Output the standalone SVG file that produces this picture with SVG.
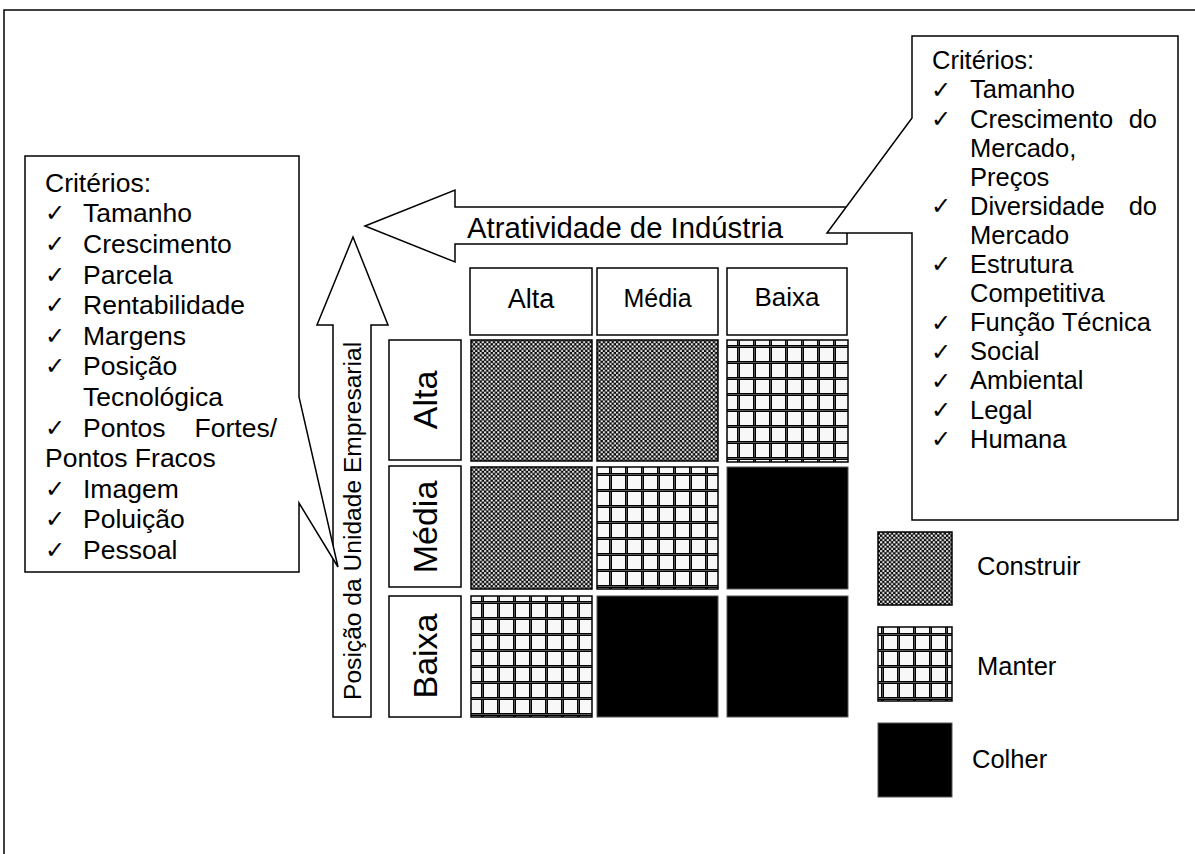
<svg xmlns="http://www.w3.org/2000/svg" width="1195" height="854" viewBox="0 0 1195 854">
<style>
text{font-family:"Liberation Sans",Arial,sans-serif;fill:#000}
.ck{font-family:"DejaVu Sans",sans-serif;font-size:24px}
.l{font-size:26.5px}
.r{font-size:25.5px}
.box{fill:#fff;stroke:#000;stroke-width:1.5}
.shape{fill:#fff;stroke:#000;stroke-width:1.5;stroke-linejoin:miter}
.build{fill:url(#checker);stroke:#000;stroke-width:1.5}
.keep{fill:url(#grid);stroke:#000;stroke-width:1.5}
.harvest{fill:#000;stroke:#555;stroke-width:1}
.hdr{font-size:34px}
</style>
<defs>
<pattern id="checker" patternUnits="userSpaceOnUse" width="4.4" height="4.4">
<rect width="4.4" height="4.4" fill="#000"/>
<rect x="0.1" y="0.1" width="2" height="2" fill="#fff"/>
<rect x="2.3" y="2.3" width="2" height="2" fill="#fff"/>
</pattern>
<pattern id="grid" patternUnits="userSpaceOnUse" width="16" height="16">
<rect width="16" height="16" fill="#f8f8f8"/>
<rect x="1" y="0" width="1" height="16" fill="#000"/>
<rect x="2" y="0" width="1" height="16" fill="#555"/>
<rect x="3" y="0" width="1" height="16" fill="#000"/>
<rect x="0" y="9" width="16" height="1" fill="#000"/>
<rect x="0" y="10" width="16" height="1" fill="#555"/>
<rect x="0" y="11" width="16" height="1" fill="#000"/>
</pattern>
</defs>
<rect width="1195" height="854" fill="#fff"/>
<path d="M4,854 V10 H1195" fill="none" stroke="#000" stroke-width="1.5"/>

<g id="connectors">
<path id="arrow-position" class="shape" d="M353,237 L388,325 H371 V717 H333 V325 H317 Z"/>
<path id="arrow-industry" class="shape" d="M365,226 L455,190 V207 H847 V244 H455 V262 Z"/>
</g>

<g id="callout-left">
<path class="box" d="M25,156 H299 V397 L338,567 L299,503 V572 H25 Z"/>
<text class="l" x="45" y="192">Critérios:</text>
<text class="ck" x="45" y="221">✓</text><text class="l" x="83" y="222.3">Tamanho</text>
<text class="ck" x="45" y="252">✓</text><text class="l" x="83" y="252.9">Crescimento</text>
<text class="ck" x="45" y="282.5">✓</text><text class="l" x="83" y="283.5">Parcela</text>
<text class="ck" x="45" y="313">✓</text><text class="l" x="83" y="314.1">Rentabilidade</text>
<text class="ck" x="45" y="343.5">✓</text><text class="l" x="83" y="344.7">Margens</text>
<text class="ck" x="45" y="374">✓</text><text class="l" x="83" y="375.3">Posição</text>
<text class="l" x="83" y="405.9">Tecnológica</text>
<text class="ck" x="45" y="435.5">✓</text><text class="l" x="83" y="436.5">Pontos</text><text class="l" x="277" y="436.5" text-anchor="end">Fortes/</text>
<text class="l" x="45" y="467.1">Pontos Fracos</text>
<text class="ck" x="45" y="496.5">✓</text><text class="l" x="83" y="497.7">Imagem</text>
<text class="ck" x="45" y="527">✓</text><text class="l" x="83" y="528.3">Poluição</text>
<text class="ck" x="45" y="558">✓</text><text class="l" x="83" y="558.9">Pessoal</text>
</g>

<g id="callout-right">
<path class="box" d="M912,36 H1178 V520 H912 V233 H827 L912,118 Z"/>
<text class="r" x="932" y="69.3">Critérios:</text>
<text class="ck" x="931" y="97.5">✓</text><text class="r" x="970" y="98.4">Tamanho</text>
<text class="ck" x="931" y="126.5">✓</text><text class="r" x="970" y="127.5">Crescimento</text><text class="r" x="1157" y="127.5" text-anchor="end">do</text>
<text class="r" x="970" y="156.6">Mercado,</text>
<text class="r" x="970" y="185.7">Preços</text>
<text class="ck" x="931" y="214">✓</text><text class="r" x="970" y="214.8">Diversidade</text><text class="r" x="1157" y="214.8" text-anchor="end">do</text>
<text class="r" x="970" y="243.9">Mercado</text>
<text class="ck" x="931" y="272">✓</text><text class="r" x="970" y="273">Estrutura</text>
<text class="r" x="970" y="302.1">Competitiva</text>
<text class="ck" x="931" y="330.5">✓</text><text class="r" x="970" y="331.2">Função Técnica</text>
<text class="ck" x="931" y="359.5">✓</text><text class="r" x="970" y="360.3">Social</text>
<text class="ck" x="931" y="388.5">✓</text><text class="r" x="970" y="389.4">Ambiental</text>
<text class="ck" x="931" y="417.5">✓</text><text class="r" x="970" y="418.5">Legal</text>
<text class="ck" x="931" y="446.5">✓</text><text class="r" x="970" y="447.6">Humana</text>
</g>

<g id="label-industry"><text x="467" y="238" font-size="29.3">Atratividade de Indústria</text></g>
<g id="label-position"><text transform="translate(361,700) rotate(-90)" font-size="24.6">Posição da Unidade Empresarial</text></g>

<g id="col-alta"><rect class="box" x="470" y="268" width="122" height="67"/><text x="531" y="308" font-size="27" text-anchor="middle">Alta</text></g>
<g id="col-media"><rect class="box" x="597" y="268" width="121" height="67"/><text x="657.5" y="307" font-size="25" text-anchor="middle">Média</text></g>
<g id="col-baixa"><rect class="box" x="727" y="268" width="120" height="67"/><text x="787" y="306" font-size="26" text-anchor="middle">Baixa</text></g>

<g id="row-alta"><rect class="box" x="389" y="340" width="72" height="120"/><text class="hdr" transform="translate(437,400) rotate(-90)" text-anchor="middle">Alta</text></g>
<g id="row-media"><rect class="box" x="389" y="466" width="72" height="121"/><text class="hdr" transform="translate(437,527) rotate(-90)" text-anchor="middle">Média</text></g>
<g id="row-baixa"><rect class="box" x="389" y="596" width="72" height="121"/><text class="hdr" transform="translate(437,656) rotate(-90)" text-anchor="middle">Baixa</text></g>

<g id="cell-1-1"><rect class="build" x="471" y="340" width="121" height="121"/></g>
<g id="cell-1-2"><rect class="build" x="597" y="340" width="121" height="121"/></g>
<g id="cell-1-3"><rect class="keep" x="727" y="340" width="121" height="122"/></g>
<g id="cell-2-1"><rect class="build" x="471" y="467" width="121" height="122"/></g>
<g id="cell-2-2"><rect class="keep" x="597" y="467" width="121" height="122"/></g>
<g id="cell-2-3"><rect class="harvest" x="727" y="467" width="121" height="122"/></g>
<g id="cell-3-1"><rect class="keep" x="471" y="596" width="121" height="121"/></g>
<g id="cell-3-2"><rect class="harvest" x="597" y="596" width="121" height="121"/></g>
<g id="cell-3-3"><rect class="harvest" x="727" y="596" width="121" height="121"/></g>

<g id="legend-construir"><rect class="build" x="878" y="532" width="74" height="73"/><text x="977" y="575" font-size="25.5">Construir</text></g>
<g id="legend-manter"><rect class="keep" x="878" y="627" width="74" height="74"/><text x="977" y="675" font-size="25.5">Manter</text></g>
<g id="legend-colher"><rect class="harvest" x="878" y="723" width="74" height="74"/><text x="972" y="768" font-size="25.5">Colher</text></g>
</svg>
